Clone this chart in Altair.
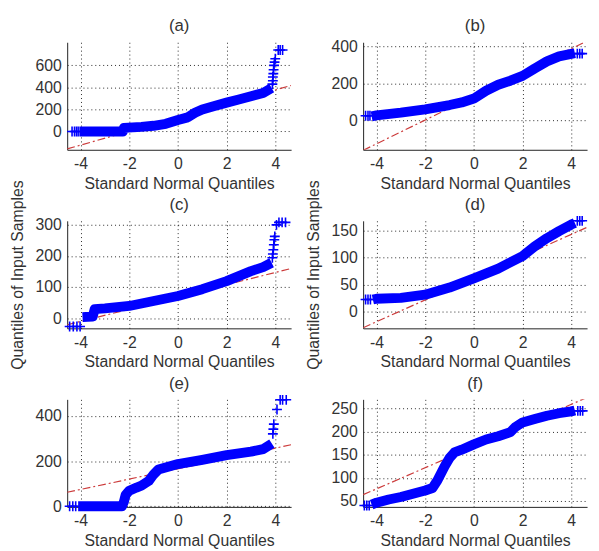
import altair as alt
import pandas as pd

FONT = "Liberation Sans"
BLUE = "#0000ff"
RED = "#cc3b3b"
TXT = "#333333"

XDOM = [-4.55, 4.65]
XTICKS = [-4, -2, 0, 2, 4]
XTITLE = "Standard Normal Quantiles"
YTITLE = "Quantiles of Input Samples"

# ---- panel (a)
a_band_x = [-4.05, -2.26, -2.22, -1.5, -1.0, -0.5, 0.0, 0.4, 0.7, 1.0, 1.5, 2.0, 2.5, 3.0, 3.5, 3.85]
a_band_y = [0, 0, 33, 42, 52, 70, 105, 128, 170, 200, 232, 262, 290, 320, 350, 395]
a_mark_x = [-4.35, -4.25, -4.17, -4.1, 3.88, 3.9, 3.9, 3.92, 3.93, 3.95, 3.97, 4.0, 4.12, 4.2, 4.3]
a_mark_y = [0, 0, 0, 0, 430, 460, 495, 525, 560, 600, 630, 660, 740, 740, 740]
a_ref_y = [-158, 418]
a_ydom = [-166, 810]
a_yticks = [0, 200, 400, 600]

# ---- panel (b)
b_band_x = [-4.2, -4.0, -3.0, -2.0, -1.0, -0.5, 0.0, 0.5, 1.0, 1.5, 2.0, 2.5, 3.0, 3.5, 4.0, 4.15]
b_band_y = [22, 27, 42, 60, 83, 97, 118, 160, 192, 214, 240, 280, 318, 345, 358, 362]
b_mark_x = [-4.45, -4.35, -4.27, 4.25, 4.35, 4.45]
b_mark_y = [25, 25, 25, 360, 360, 360]
b_ref_y = [-161, 428]
b_ydom = [-158, 421]
b_yticks = [0, 200, 400]

# ---- panel (c)
c_band_x = [-3.92, -3.5, -3.42, -3.0, -2.0, -1.0, 0.0, 1.0, 2.0, 3.0, 3.5, 3.85]
c_band_y = [3, 5, 29, 31, 39, 55, 71, 93, 119, 151, 164, 178]
c_mark_x = [-4.45, -4.3, -4.15, -4.02, 3.88, 3.9, 3.92, 3.94, 3.96, 3.98, 4.05, 4.15, 4.28, 4.42]
c_mark_y = [-27, -27, -27, -27, 194, 206, 220, 236, 252, 263, 300, 308, 308, 308]
c_ref_y = [-21.6, 159.6]
c_ydom = [-33, 313]
c_yticks = [0, 100, 200, 300]

# ---- panel (d)
d_band_x = [-4.15, -4.0, -3.0, -2.0, -1.0, 0.0, 1.0, 2.0, 2.5, 3.0, 3.5, 4.0, 4.15]
d_band_y = [23, 24.5, 26, 32, 45, 62, 80, 103, 121, 136, 149, 161, 164]
d_mark_x = [-4.45, -4.35, -4.25, 4.25, 4.35, 4.45]
d_mark_y = [23, 23, 23, 168, 168, 168]
d_ref_y = [-28.9, 156]
d_ydom = [-30, 168]
d_yticks = [0, 50, 100, 150]

# ---- panel (e)
e_band_x = [-4.1, -2.3, -2.22, -2.15, -2.0, -1.7, -1.5, -1.2, -1.0, -0.8, 0.0, 1.0, 2.0, 3.0, 3.5, 3.86]
e_band_y = [0, 0, 20, 50, 69, 83, 91, 112, 141, 163, 187, 206, 227, 242, 253, 278]
e_mark_x = [-4.45, -4.32, -4.2, 3.9, 3.92, 3.94, 4.07, 4.2, 4.3, 4.45]
e_mark_y = [0, 0, 0, 321, 342, 364, 429, 472, 472, 472]
e_ref_y = [61.8, 272.5]
e_ydom = [-3, 474]
e_yticks = [0, 200, 400]

# ---- panel (f)
f_band_x = [-4.2, -4.0, -3.5, -3.0, -2.5, -2.0, -1.7, -1.5, -1.2, -1.0, -0.8, -0.5, 0.0, 0.5, 1.0, 1.5, 1.7, 2.0, 2.5, 3.0, 3.5, 4.0, 4.15]
f_band_y = [42, 46, 53, 58.5, 65.6, 72.6, 78, 94, 125, 143, 155, 161, 172.5, 183, 190, 199, 210, 220, 227.5, 234.5, 240, 244, 246]
f_mark_x = [-4.5, -4.4, -4.3, 4.27, 4.37, 4.47]
f_mark_y = [40, 40, 40, 245, 245, 245]
f_ref_y = [63.4, 274.1]
f_ydom = [37, 270]
f_yticks = [50, 100, 150, 200, 250]

PLUS = "M-1,0H1M0,-1V1"
W, H = 227, 109


def panel(title, bx, by, mx, my, ref_y, ydom, yticks, ytitle):
    xs = alt.Scale(domain=XDOM, nice=False, zero=False)
    ys = alt.Scale(domain=ydom, nice=False, zero=False)
    xax = alt.Axis(values=XTICKS, tickCount=20, title=XTITLE, grid=True,
                   labelPadding=6, titlePadding=4, labelExpr="'' + datum.value",
                   labelOverlap=False, labelFlush=False)
    yax = alt.Axis(values=yticks, tickCount=20, title=ytitle if ytitle else None,
                   grid=True, labelPadding=6, titlePadding=10,
                   labelExpr="'' + datum.value", labelOverlap=False, labelFlush=False)
    band_df = pd.DataFrame({"x": bx, "y": by, "o": list(range(len(bx)))})
    mark_df = pd.DataFrame({"x": mx, "y": my})
    ref_df = pd.DataFrame({"x": XDOM, "y": ref_y, "o": [0, 1]})
    ttl_df = pd.DataFrame({"t": [title]})

    ref = alt.Chart(ref_df).mark_line(color=RED, strokeWidth=1.2,
                                      strokeDash=[8, 3, 2, 3], clip=True).encode(
        x=alt.X("x:Q", scale=xs, axis=xax),
        y=alt.Y("y:Q", scale=ys, axis=yax),
        order="o:O")
    band = alt.Chart(band_df).mark_line(color=BLUE, strokeWidth=10,
                                        strokeCap="butt", strokeJoin="round").encode(
        x="x:Q", y="y:Q", order="o:O")
    pts = alt.Chart(mark_df).mark_point(shape=PLUS, filled=False, color=BLUE,
                                        strokeWidth=1.6, size=100, opacity=1).encode(
        x="x:Q", y="y:Q")
    ttl = alt.Chart(ttl_df).mark_text(font=FONT, fontSize=17, color=TXT,
                                      align="center", baseline="middle").encode(
        text="t:N", x=alt.value(W / 2), y=alt.value(-16))
    return alt.layer(ref, band, pts, ttl).properties(width=W, height=H)


charts = [
    panel("(a)", a_band_x, a_band_y, a_mark_x, a_mark_y, a_ref_y, a_ydom, a_yticks, None),
    panel("(b)", b_band_x, b_band_y, b_mark_x, b_mark_y, b_ref_y, b_ydom, b_yticks, None),
    panel("(c)", c_band_x, c_band_y, c_mark_x, c_mark_y, c_ref_y, c_ydom, c_yticks, YTITLE),
    panel("(d)", d_band_x, d_band_y, d_mark_x, d_mark_y, d_ref_y, d_ydom, d_yticks, YTITLE),
    panel("(e)", e_band_x, e_band_y, e_mark_x, e_mark_y, e_ref_y, e_ydom, e_yticks, None),
    panel("(f)", f_band_x, f_band_y, f_mark_x, f_mark_y, f_ref_y, f_ydom, f_yticks, None),
]

chart = alt.concat(*charts, columns=2, spacing={"row": 72, "column": 73},
                   bounds="flush").properties(
    padding={"left": 1, "top": 6, "right": 0, "bottom": 0}
).configure_view(stroke=None).configure_axis(
    labelFont=FONT, labelFontSize=16, labelColor=TXT,
    titleFont=FONT, titleFontSize=16, titleFontWeight="normal", titleColor=TXT,
    domainColor="#222222", domainWidth=1, ticks=False,
    gridColor="#000000", gridDash=[1, 3], gridWidth=1, gridOpacity=0.85,
)

chart.save("out.html", embed_options={"renderer": "svg", "actions": False})
